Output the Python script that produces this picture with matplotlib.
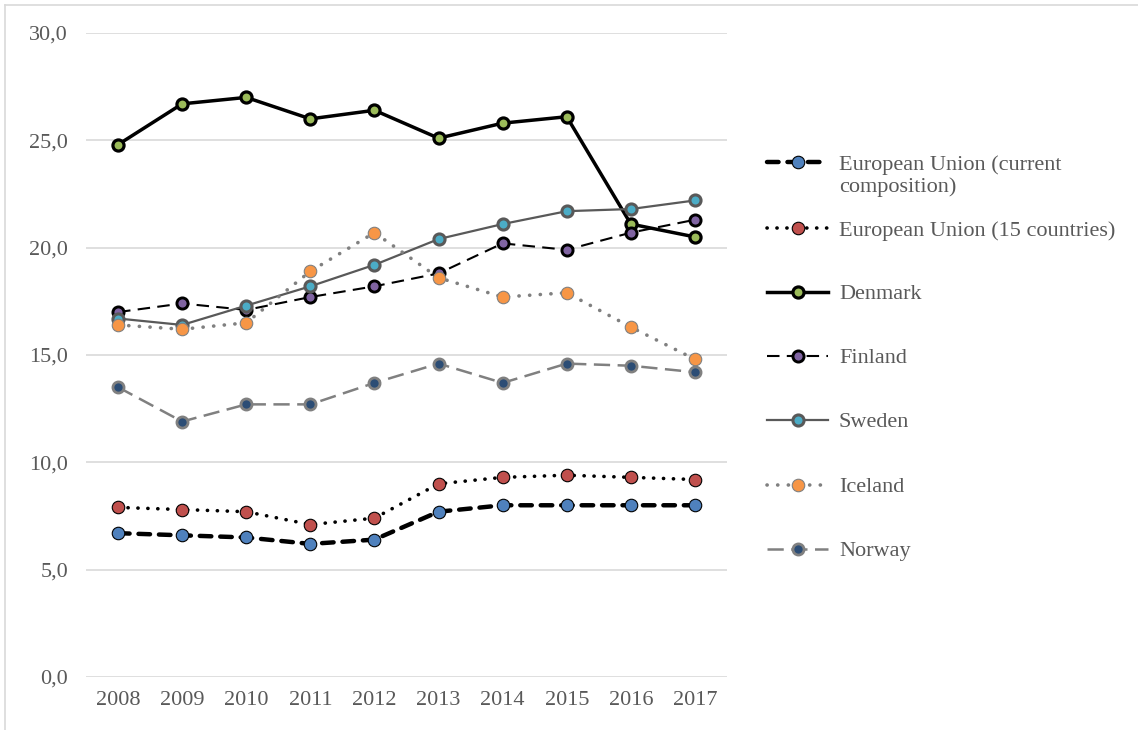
import matplotlib
matplotlib.use("Agg")
import matplotlib.pyplot as plt
from matplotlib.lines import Line2D
from matplotlib.ticker import FuncFormatter

years = ["2008", "2009", "2010", "2011", "2012", "2013", "2014", "2015", "2016", "2017"]

eu_current = [6.7, 6.6, 6.5, 6.2, 6.4, 7.7, 8.0, 8.0, 8.0, 8.0]
eu_15 = [7.9, 7.8, 7.7, 7.1, 7.4, 9.0, 9.3, 9.4, 9.3, 9.2]
denmark = [24.8, 26.7, 27.0, 26.0, 26.4, 25.1, 25.8, 26.1, 21.1, 20.5]
finland = [17.0, 17.4, 17.1, 17.7, 18.2, 18.8, 20.2, 19.9, 20.7, 21.3]
sweden = [16.7, 16.4, 17.3, 18.2, 19.2, 20.4, 21.1, 21.7, 21.8, 22.2]
iceland = [16.4, 16.2, 16.5, 18.9, 20.7, 18.6, 17.7, 17.9, 16.3, 14.8]
norway = [13.5, 11.9, 12.7, 12.7, 13.7, 14.6, 13.7, 14.6, 14.5, 14.2]

labels = ["European Union (current\ncomposition)", "European Union (15 countries)",
          "Denmark", "Finland", "Sweden", "Iceland", "Norway"]

plt.rcParams["font.family"] = ["Liberation Serif", "DejaVu Serif"]
txt_color = "#595959"

# line / marker styles for each series
styles = [
    dict(color="black", lw=3.2, ls=(0, (2.6, 2.0)), dash_capstyle="round",
         marker="o", ms=9, mfc="#4F81BD", mec="black", mew=0.8),
    dict(color="black", lw=2.6, ls=(0, (0.05, 2.7)), dash_capstyle="round",
         marker="o", ms=9, mfc="#C0504D", mec="black", mew=0.8),
    dict(color="black", lw=2.5, ls="-",
         marker="o", ms=8, mfc="#9BBB59", mec="black", mew=2.3),
    dict(color="black", lw=1.5, ls=(0, (6, 3.5)),
         marker="o", ms=8, mfc="#8064A2", mec="black", mew=2.1),
    dict(color="#595959", lw=1.6, ls="-",
         marker="o", ms=8, mfc="#4BACC6", mec="#595959", mew=2.2),
    dict(color="#808080", lw=2.6, ls=(0, (0.05, 2.9)), dash_capstyle="round",
         marker="o", ms=9, mfc="#F79646", mec="#808080", mew=0.8),
    dict(color="#808080", lw=1.8, ls=(0, (6.5, 3)),
         marker="o", ms=8, mfc="#2C4D75", mec="#808080", mew=2.0),
]
series = [eu_current, eu_15, denmark, finland, sweden, iceland, norway]

fig = plt.figure(figsize=(11.38, 7.3), dpi=100)
ax = fig.add_axes([86 / 1138, 53 / 730, 641 / 1138, 644 / 730])

x = list(range(len(years)))
for i, (vals, st) in enumerate(zip(series, styles)):
    ax.plot(x, vals, zorder=3 + i, **st)

ax.set_xlim(-0.5, len(years) - 0.5)
ax.set_ylim(0, 30)
ax.set_yticks([0, 5, 10, 15, 20, 25, 30])
ax.yaxis.set_major_formatter(FuncFormatter(lambda v, p: f"{v:.1f}".replace(".", ",")))
ax.set_xticks(x)
ax.set_xticklabels(years)
ax.grid(axis="y", color="#d9d9d9", lw=1.2, zorder=0)
ax.set_axisbelow(True)
for s in ax.spines.values():
    s.set_visible(False)
ax.tick_params(axis="both", length=0, labelsize=16, colors=txt_color)
ax.tick_params(axis="y", pad=13)
ax.tick_params(axis="x", pad=10)

# legend drawn by hand to mimic the spreadsheet layout
W, H = 1138, 730
leg_y = [162, 228, 292, 356, 420, 485, 549]
for lab, st, yp in zip(labels, styles, leg_y):
    yf = 1 - yp / H
    line_kw = {k: v for k, v in st.items() if k not in ("marker", "ms", "mfc", "mec", "mew")}
    fig.add_artist(Line2D([767 / W, 828 / W], [yf, yf], transform=fig.transFigure, **line_kw))
    fig.add_artist(Line2D([798 / W], [yf], transform=fig.transFigure, ls="none",
                          marker="o", ms=st["ms"], mfc=st["mfc"], mec=st["mec"], mew=st["mew"]))
    fig.text(839 / W, 1 - (yp - 7) / H, lab, fontsize=16, color=txt_color,
             va="top", ha="left", linespacing=1.2)

# chart frame
fig.add_artist(Line2D([5 / W, 1], [1 - 5 / H, 1 - 5 / H], transform=fig.transFigure,
                      color="#d9d9d9", lw=1.2))
fig.add_artist(Line2D([5 / W, 5 / W], [0, 1 - 5 / H], transform=fig.transFigure,
                      color="#d9d9d9", lw=1.2))

fig.savefig("out.png", dpi=100)
